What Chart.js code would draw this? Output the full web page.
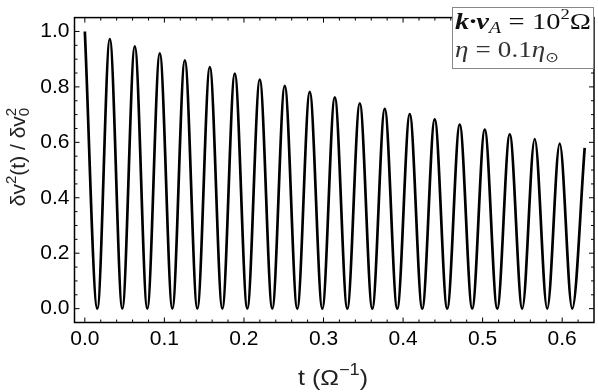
<!DOCTYPE html>
<html><head><meta charset="utf-8">
<script src="https://cdn.jsdelivr.net/npm/chart.js@4.4.0/dist/chart.umd.min.js"></script>
<style>html,body{margin:0;padding:0;background:#fff;}#wrap{width:598px;height:392px;}</style>
</head><body><div id="wrap"><canvas id="c" width="598" height="392"></canvas></div>
<script>
// Peak times / values
const peakT = [0, 0.0314, 0.0628, 0.0942, 0.1257, 0.1571, 0.1885, 0.2199, 0.2513, 0.2827, 0.3142, 0.3456, 0.3770, 0.4084, 0.4398, 0.4712, 0.5027, 0.5341, 0.5655, 0.5969, 0.6283];
const peakV = [1.000, 0.972, 0.946, 0.921, 0.896, 0.871, 0.848, 0.826, 0.804, 0.782, 0.762, 0.741, 0.721, 0.702, 0.683, 0.664, 0.646, 0.629, 0.612, 0.595, 0.580];
// Trough times / values
const troughT = [0.0157, 0.0471, 0.0785, 0.1100, 0.1414, 0.1728, 0.2042, 0.2356, 0.2670, 0.2985, 0.3299, 0.3613, 0.3927, 0.4241, 0.4555, 0.4869, 0.5184, 0.5498, 0.5812, 0.6126];
const troughV = [0, 0, 0, 0, 0, 0, 0, 0, 0, 0, 0, 0, 0, 0, 0, 0, 0, 0, 0, 0];
// Tick labels
const xTicks = [0.0, 0.1, 0.2, 0.3, 0.4, 0.5, 0.6];
const yTicks = [0.0, 0.2, 0.4, 0.6, 0.8, 1.0];

const points = [];
for (let i = 0; i < peakT.length; i++) {
  points.push({x: peakT[i], y: peakV[i]});
  if (i < troughT.length) points.push({x: troughT[i], y: troughV[i]});
}

function drawRich(ctx, segs, x, y, align, targetW) {
  let w = 0;
  segs.forEach(s => {
    if (s.gap) { s.w = s.gap; } else { ctx.font = s.font; s.w = ctx.measureText(s.t).width; }
    if (!s.stack) w += s.w;
  });
  const k = targetW ? targetW / w : 1;
  ctx.save();
  ctx.translate(align === 'center' ? x - w * k / 2 : x, y);
  ctx.scale(k, 1);
  let cx = 0;
  segs.forEach(s => {
    if (!s.gap) {
      ctx.font = s.font; ctx.fillStyle = s.color || '#000';
      ctx.fillText(s.t, cx, (s.dy || 0));
    }
    if (!s.stack) cx += s.w;
  });
  ctx.restore();
}

const decor = {
  id: 'decor',
  afterDraw(chart) {
    const ctx = chart.ctx, a = chart.chartArea;
    const xs = chart.scales.x, ys = chart.scales.y;
    ctx.save();
    ctx.strokeStyle = '#000'; ctx.lineWidth = 1.5;
    ctx.strokeRect(a.left, a.top, a.right - a.left, a.bottom - a.top);
    ctx.lineWidth = 1;
    ctx.beginPath();
    for (let i = 0; i <= 31; i++) {
      const v = i * 0.02; const px = xs.getPixelForValue(v);
      const L = (i % 5 === 0) ? 5 : 3;
      ctx.moveTo(px, a.bottom); ctx.lineTo(px, a.bottom - L);
      ctx.moveTo(px, a.top); ctx.lineTo(px, a.top + L);
    }
    for (let i = 0; i <= 20; i++) {
      const v = i * 0.05; const py = ys.getPixelForValue(v);
      const L = (i % 4 === 0) ? 5 : 3;
      ctx.moveTo(a.left, py); ctx.lineTo(a.left + L, py);
      ctx.moveTo(a.right, py); ctx.lineTo(a.right - L, py);
    }
    ctx.stroke();

    // legend box
    ctx.fillStyle = '#fff';
    ctx.fillRect(452, 7, 142, 61);
    ctx.strokeStyle = '#888'; ctx.lineWidth = 1;
    ctx.strokeRect(452.5, 7.5, 141, 61);
    ctx.textBaseline = 'alphabetic';
    const sf = '"Liberation Serif", serif';
    drawRich(ctx, [
      {t: 'k·v', font: 'italic bold 23px ' + sf, color: '#111'},
      {t: 'A', font: 'italic 16px ' + sf, dy: 4, color: '#111'},
      {gap: 6},
      {t: '=', font: '23px ' + sf, color: '#111'},
      {gap: 6},
      {t: '10', font: '23px ' + sf, color: '#111'},
      {t: '2', font: '15px ' + sf, dy: -10, color: '#111'},
      {t: 'Ω', font: '23px ' + sf, color: '#111'}
    ], 455, 29, 'left', 136);
    drawRich(ctx, [
      {t: 'η', font: 'italic 23px ' + sf, color: '#333'},
      {gap: 6},
      {t: '=', font: '23px ' + sf, color: '#333'},
      {gap: 6},
      {t: '0.1', font: '23px ' + sf, color: '#333'},
      {t: 'η', font: 'italic 23px ' + sf, color: '#333'},
      {t: '⊙', font: '14px "DejaVu Sans", sans-serif', dy: 5, color: '#333'}
    ], 455, 57, 'left', 104);

    // axis titles
    const af = '"Liberation Sans", Arial, sans-serif';
    ctx.textBaseline = 'alphabetic';
    drawRich(ctx, [
      {t: 't (Ω', font: '22px ' + af, color: '#222'},
      {t: '−1', font: '16px ' + af, dy: -10, color: '#222'},
      {t: ')', font: '22px ' + af, color: '#222'}
    ], 333, 385, 'center', 70);
    ctx.translate(25, 157);
    ctx.rotate(-Math.PI / 2);
    drawRich(ctx, [
      {t: 'δv', font: '21px ' + af, color: '#222'},
      {t: '2', font: '15px ' + af, dy: -9, color: '#222'},
      {t: '(t) / δv', font: '21px ' + af, color: '#222'},
      {t: '2', font: '15px ' + af, dy: -9, color: '#222', stack: true},
      {t: '0', font: '15px ' + af, dy: 4, color: '#222'}
    ], 0, 0, 'center');
    ctx.restore();
  }
};

new Chart(document.getElementById('c'), {
  type: 'line',
  data: { datasets: [{ data: points, borderColor: '#000', borderWidth: 2.7, pointRadius: 0,
    cubicInterpolationMode: 'monotone', fill: false }] },
  options: {
    responsive: false, animation: false, devicePixelRatio: 1,
    layout: { padding: { left: 0, right: 4, top: 1, bottom: 0 } },
    plugins: { legend: { display: false }, tooltip: { enabled: false } },
    scales: {
      x: { type: 'linear', min: -0.013, max: 0.64,
        grid: { display: false, drawTicks: false }, border: { display: false },
        afterBuildTicks: s => { s.ticks = xTicks.map(v => ({value: v})); },
        afterFit: s => { s.height = 69.5; },
        ticks: { callback: v => v.toFixed(1), font: { family: 'Liberation Sans', size: 21 }, color: '#000',
          padding: 4, maxRotation: 0, autoSkip: false } },
      y: { type: 'linear', min: -0.05, max: 1.05,
        grid: { display: false, drawTicks: false }, border: { display: false },
        afterBuildTicks: s => { s.ticks = yTicks.map(v => ({value: v})); },
        afterFit: s => { s.width = 74.5; },
        ticks: { callback: v => v.toFixed(1), font: { family: 'Liberation Sans', size: 21 }, color: '#000',
          padding: 5, autoSkip: false } }
    }
  },
  plugins: [decor]
});
</script></body></html>
